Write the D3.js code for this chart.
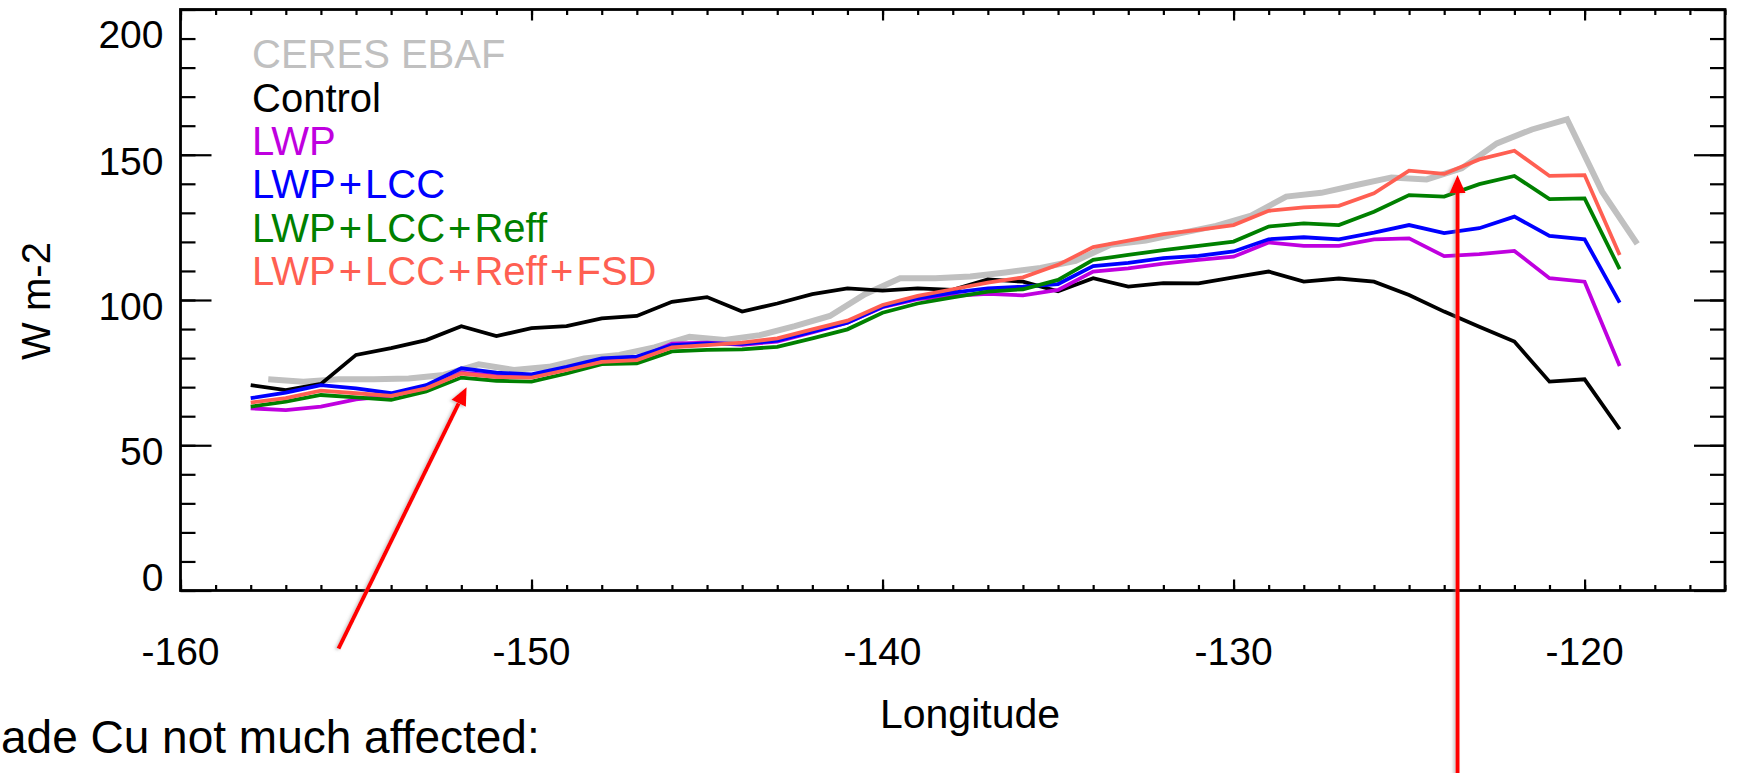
<!doctype html>
<html lang="en">
  <head>
    <meta charset="UTF-8" />
    <title>Zonal mean SW cloud forcing</title>
    <style>
      body {
        margin: 0;
        background: #fff;
      }
      svg {
        display: block;
        font-family: "Liberation Sans", Arial, sans-serif;
      }
    </style>
  </head>
  <body>
    <svg id="chart" width="1747" height="773"></svg>

    <script src="https://d3js.org/d3.v7.min.js"></script>
    <script>
      // model longitudes (degrees) and CERES longitudes (half-degree centres)
      const lonModel = [
        -158, -157, -156, -155, -154, -153, -152, -151, -150, -149,
        -148, -147, -146, -145, -144, -143, -142, -141, -140, -139,
        -138, -137, -136, -135, -134, -133, -132, -131, -130, -129,
        -128, -127, -126, -125, -124, -123, -122, -121, -120, -119,
      ];
      const lonCeres = [
        -157.5, -156.5, -155.5, -154.5, -153.5, -152.5, -151.5, -150.5, -149.5, -148.5,
        -147.5, -146.5, -145.5, -144.5, -143.5, -142.5, -141.5, -140.5, -139.5, -138.5,
        -137.5, -136.5, -135.5, -134.5, -133.5, -132.5, -131.5, -130.5, -129.5, -128.5,
        -127.5, -126.5, -125.5, -124.5, -123.5, -122.5, -121.5, -120.5, -119.5, -118.5,
      ];

      const ceres = [
        72.7, 71.9, 72.7, 72.7, 73.0, 74.2, 77.9, 75.9, 77.0, 79.9,
        81.1, 83.7, 87.3, 86.2, 87.9, 91.0, 94.5, 102.0, 107.5, 107.5,
        108.1, 109.5, 111.0, 113.5, 119.0, 120.5, 123.0, 125.5, 129.0, 135.6,
        136.9, 139.6, 142.2, 141.5, 145.3, 153.9, 158.7, 162.2, 137.3, 119.3,
      ];
      const control = [
        70.7, 69.0, 71.1, 81.1, 83.4, 86.2, 91.0, 87.6, 90.3, 91.0,
        93.7, 94.5, 99.4, 101.0, 96.0, 98.8, 102.0, 104.0, 103.2, 104.0,
        103.5, 107.1, 106.3, 103.0, 107.5, 104.6, 105.8, 105.7, 107.8, 109.8,
        106.3, 107.4, 106.3, 101.7, 96.0, 90.8, 85.7, 71.9, 72.7, 55.5,
      ];
      const lwp = [
        62.7, 62.1, 63.3, 65.8, 67.0, 69.5, 75.0, 74.0, 73.8, 76.2,
        79.0, 79.8, 85.0, 85.3, 84.6, 85.7, 88.8, 92.2, 97.5, 100.3,
        101.4, 102.1, 101.6, 103.5, 109.8, 110.9, 112.5, 113.8, 114.9, 119.8,
        118.6, 118.6, 120.9, 121.2, 115.1, 115.8, 116.9, 107.5, 106.3, 77.3,
      ];
      const lwpLcc = [
        66.2, 68.1, 70.7, 69.6, 67.9, 70.7, 76.5, 75.0, 74.4, 77.0,
        79.9, 80.5, 84.5, 85.1, 84.9, 86.0, 89.1, 92.2, 97.7, 100.6,
        102.5, 104.0, 104.6, 105.5, 111.7, 112.8, 114.4, 115.2, 116.7, 120.9,
        121.6, 120.9, 123.2, 125.8, 123.0, 124.7, 128.7, 122.1, 120.9, 99.1,
      ];
      const lwpLccReff = [
        63.3, 65.0, 67.3, 66.5, 65.6, 68.5, 73.3, 72.2, 71.9, 74.7,
        77.9, 78.2, 82.3, 82.8, 83.0, 83.9, 86.8, 89.9, 95.6, 98.8,
        100.9, 102.9, 103.7, 106.9, 113.8, 115.5, 117.2, 118.6, 120.1, 125.3,
        126.4, 125.8, 130.4, 136.1, 135.6, 139.9, 142.7, 134.7, 135.0, 110.6,
      ];
      const lwpLccReffFsd = [
        64.7, 66.2, 68.8, 67.9, 67.0, 69.6, 74.7, 73.5, 73.3, 75.9,
        78.7, 79.3, 83.7, 84.5, 85.3, 86.8, 89.9, 92.9, 98.3, 101.4,
        103.7, 106.0, 107.8, 112.1, 118.2, 120.4, 122.7, 124.1, 125.8, 130.7,
        131.9, 132.4, 136.7, 144.5, 143.4, 148.4, 151.4, 142.7, 143.0, 115.5,
      ];

      const seriesNames = [
        "CERES EBAF",
        "Control",
        "LWP",
        "LWP+LCC",
        "LWP+LCC+Reff",
        "LWP+LCC+Reff+FSD",
      ];
      const seriesColors = ["#c0c0c0", "#000000", "#bf00df", "#0000ff", "#008000", "#ff5f52"];

      const xTicks = [-160, -150, -140, -130, -120];
      const yTicks = [0, 50, 100, 150, 200];

      // red annotation arrows, in data units (tail -> tip)
      const arrows = [
        { x1: -155.5, y1: -20, x2: -151.85, y2: 70 },
        { x1: -123.62, y1: -70, x2: -123.62, y2: 143 },
      ];

      const series = [
        { lon: lonCeres, values: ceres },
        { lon: lonModel, values: control },
        { lon: lonModel, values: lwp },
        { lon: lonModel, values: lwpLcc },
        { lon: lonModel, values: lwpLccReff },
        { lon: lonModel, values: lwpLccReffFsd },
      ].map((s, i) => ({ ...s, name: seriesNames[i], color: seriesColors[i] }));

      const svg = d3.select("#chart");
      const plotLeft = 180.5,
        plotRight = 1725,
        plotTop = 9.5,
        plotBottom = 590.5;

      const x = d3.scaleLinear().domain([-160, -116]).range([plotLeft, plotRight]);
      const y = d3.scaleLinear().domain([0, 200]).range([plotBottom, plotTop]);

      const defs = svg.append("defs");
      defs
        .append("filter")
        .attr("id", "shadow")
        .attr("x", "-50%")
        .attr("y", "-10%")
        .attr("width", "200%")
        .attr("height", "120%")
        .append("feDropShadow")
        .attr("dx", -2)
        .attr("dy", 1)
        .attr("stdDeviation", 1.5)
        .attr("flood-color", "#888")
        .attr("flood-opacity", 0.45);

      // ticks (all inward, IDL style)
      const minorX = d3.range(-160, -115, 1);
      const minorY = d3.range(0, 201, 10);

      function tickAxis(axisFn, scale, ticks, size, tx, ty) {
        const g = svg
          .append("g")
          .attr("transform", `translate(${tx},${ty})`)
          .call(axisFn(scale).tickValues(ticks).tickSize(size).tickFormat(""));
        g.select(".domain").remove();
        g.selectAll("line").attr("stroke", "#000").attr("stroke-width", 2.2);
        return g;
      }

      tickAxis(d3.axisBottom, x, minorX, -5.5, 0, plotBottom);
      tickAxis(d3.axisBottom, x, xTicks, -11, 0, plotBottom);
      tickAxis(d3.axisTop, x, minorX, -5.5, 0, plotTop);
      tickAxis(d3.axisTop, x, xTicks, -11, 0, plotTop);
      tickAxis(d3.axisLeft, y, minorY, -15, plotLeft, 0);
      tickAxis(d3.axisLeft, y, yTicks, -31, plotLeft, 0);
      tickAxis(d3.axisRight, y, minorY, -15, plotRight, 0);
      tickAxis(d3.axisRight, y, yTicks, -31, plotRight, 0);

      // frame
      svg
        .append("rect")
        .attr("x", plotLeft)
        .attr("y", plotTop)
        .attr("width", plotRight - plotLeft)
        .attr("height", plotBottom - plotTop)
        .attr("fill", "none")
        .attr("stroke", "#000")
        .attr("stroke-width", 2.8);

      // tick labels
      svg
        .append("g")
        .selectAll("text")
        .data(xTicks)
        .join("text")
        .attr("x", (d) => x(d))
        .attr("y", plotBottom + 74.5)
        .attr("text-anchor", "middle")
        .attr("font-size", 39)
        .text((d) => d);

      svg
        .append("g")
        .selectAll("text")
        .data(yTicks)
        .join("text")
        .attr("x", plotLeft - 17)
        .attr("y", (d) => y(d) + (d === 200 ? 38 : d === 0 ? 0 : 20))
        .attr("text-anchor", "end")
        .attr("font-size", 39)
        .text((d) => d);

      // axis titles
      svg
        .append("text")
        .attr("x", 970)
        .attr("y", 728)
        .attr("text-anchor", "middle")
        .attr("font-size", 41)
        .text("Longitude");

      svg
        .append("text")
        .attr("transform", "translate(50,301) rotate(-90)")
        .attr("text-anchor", "middle")
        .attr("font-size", 40)
        .text("W m-2");

      // series lines
      const line = d3
        .line()
        .x((d) => x(d[0]))
        .y((d) => y(d[1]));

      svg
        .append("g")
        .selectAll("path")
        .data(series)
        .join("path")
        .attr("d", (s) => line(s.lon.map((l, i) => [l, s.values[i]])))
        .attr("fill", "none")
        .attr("stroke", (s) => s.color)
        .attr("stroke-width", (s, i) => (i === 0 ? 6 : 3.8))
        .attr("stroke-linejoin", "miter");

      // legend
      const legend = svg.append("g").attr("font-size", 40);
      series.forEach((s, i) => {
        const t = legend
          .append("text")
          .attr("x", 252)
          .attr("y", 68.3 + i * 43.3)
          .attr("fill", s.color);
        s.name.split("+").forEach((part, j) => {
          if (j > 0) t.append("tspan").attr("dx", 3).text("+");
          t.append("tspan").attr("dx", j > 0 ? 3 : 0).text(part);
        });
      });

      // annotation arrows
      const arrowG = svg.append("g").attr("filter", "url(#shadow)");
      arrows.forEach((a) => {
        const x1 = x(a.x1),
          y1 = y(a.y1),
          x2 = x(a.x2),
          y2 = y(a.y2);
        const len = Math.hypot(x2 - x1, y2 - y1);
        const ux = (x2 - x1) / len,
          uy = (y2 - y1) / len;
        const headLen = 18,
          headW = 8;
        const bx = x2 - ux * headLen,
          by = y2 - uy * headLen;
        arrowG
          .append("line")
          .attr("x1", x1)
          .attr("y1", y1)
          .attr("x2", bx)
          .attr("y2", by)
          .attr("stroke", "#ff0000")
          .attr("stroke-width", 4);
        arrowG
          .append("polygon")
          .attr(
            "points",
            [
              [x2, y2],
              [bx - uy * headW, by + ux * headW],
              [bx + uy * headW, by - ux * headW],
            ].join(" "),
          )
          .attr("fill", "#ff0000");
      });

      // slide caption
      svg
        .append("text")
        .attr("x", 1)
        .attr("y", 753)
        .attr("font-size", 46)
        .text("ade Cu not much affected:");
    </script>
  </body>
</html>
